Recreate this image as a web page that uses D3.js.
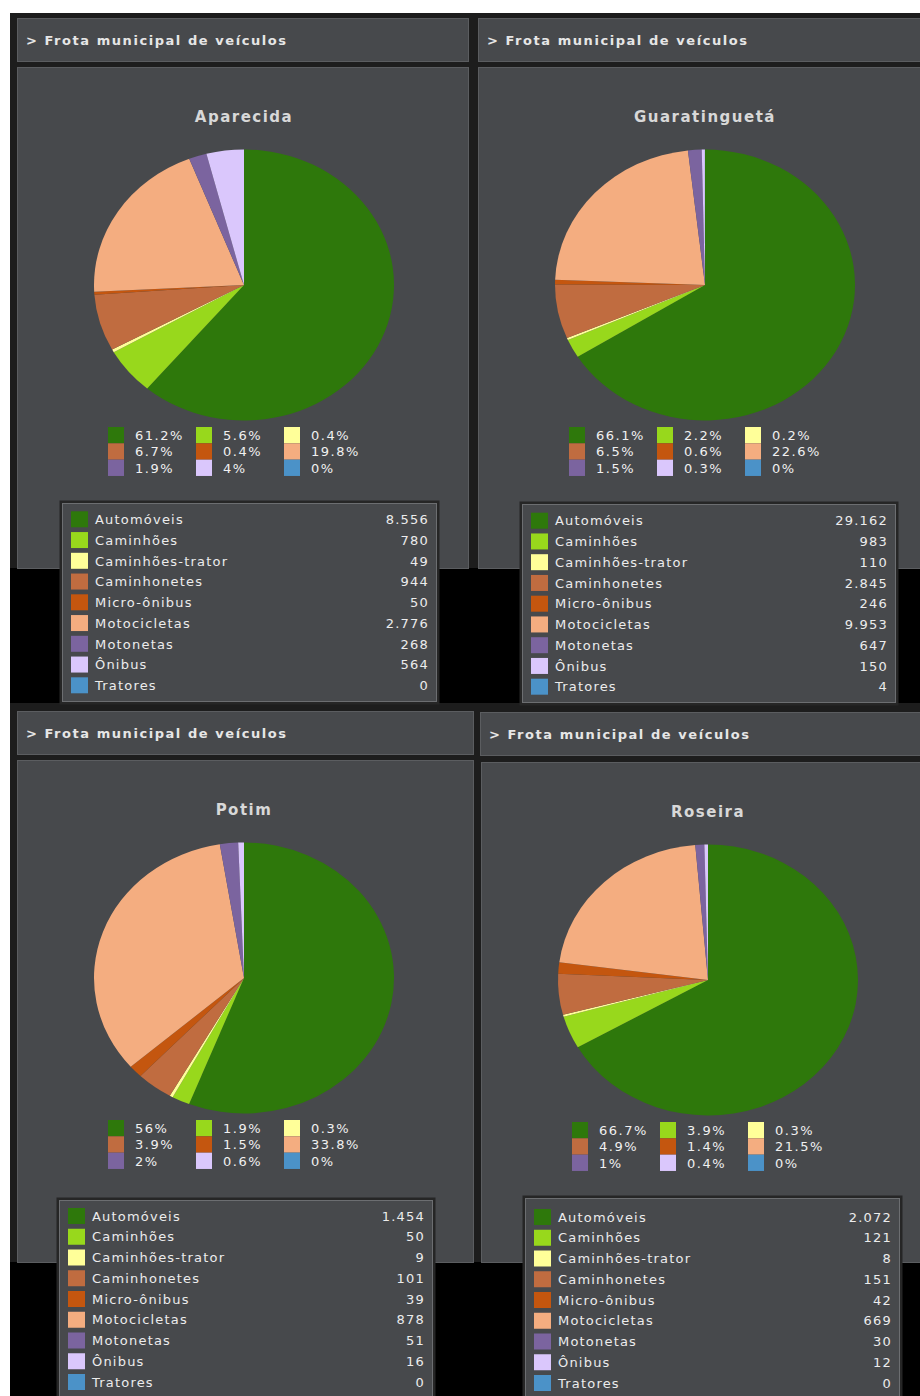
<!DOCTYPE html>
<html>
<head>
<meta charset="utf-8">
<script src="https://cdn.jsdelivr.net/npm/d3@7"></script>
<style>
  body{margin:0;background:#fff;}
  svg{display:block;}
  text{font-family:"DejaVu Sans", Verdana, sans-serif;}
</style>
</head>
<body>
<div class="graph"></div>
<script>
// ============== Data ==============
var categories = ['Automóveis', 'Caminhões', 'Caminhões-trator', 'Caminhonetes', 'Micro-ônibus',
                  'Motocicletas', 'Motonetas', 'Ônibus', 'Tratores'];
var colors = ['#2e780b', '#98d81c', '#ffff99', '#c06c40', '#c4560f',
              '#f4ad80', '#7b649f', '#dac7fc', '#4b92c8'];
var cities = ['Aparecida', 'Guaratinguetá', 'Potim', 'Roseira'];
var aparecida     = [8556, 780, 49, 944, 50, 2776, 268, 564, 0];
var guaratingueta = [29162, 983, 110, 2845, 246, 9953, 647, 150, 4];
var potim         = [1454, 50, 9, 101, 39, 878, 51, 16, 0];
var roseira       = [2072, 121, 8, 151, 42, 669, 30, 12, 0];
var headerTitle = '> Frota municipal de veículos';

// ============== Layout ==============
var config = {
  width: 920,
  height: 1396,
  boxFill: '#47494c',
  boxStroke: '#5b5d60',
  rx: 150,
  ry: 135.5
};

var panels = [
  {name: cities[0], values: aparecida,
   header: {x: 17, y: 18, w: 451, h: 43}, box: {x: 17, y: 67, w: 451, h: 501},
   table: {x: 62, y: 503, w: 375, r0: 16.3}},
  {name: cities[1], values: guaratingueta,
   header: {x: 478, y: 18, w: 450, h: 43}, box: {x: 478, y: 67, w: 450, h: 501},
   table: {x: 522, y: 504, w: 374, r0: 16.7}},
  {name: cities[2], values: potim,
   header: {x: 17, y: 711, w: 456, h: 43}, box: {x: 17, y: 760, w: 456, h: 502},
   table: {x: 59, y: 1200, w: 374, r0: 16}},
  {name: cities[3], values: roseira,
   header: {x: 480, y: 712, w: 450, h: 43}, box: {x: 481, y: 762, w: 450, h: 500},
   table: {x: 525, y: 1198, w: 375, r0: 19}}
];

var color = d3.scaleOrdinal().domain(categories).range(colors);
var fmtNumber = d3.formatLocale({decimal: ',', thousands: '.', grouping: [3], currency: ['', '']}).format(',d');
function fmtPct(v){ return (Math.round(v*1000)/10) +'%'; }

var svg = d3.select('.graph')
  .append('svg')
  .attr('width', config.width)
  .attr('height', config.height);

// Backgrounds
svg.append('rect').attr('x', 10).attr('y', 13).attr('width', config.width - 10).attr('height', config.height - 13)
  .attr('fill', '#1d1d1d');
svg.append('rect').attr('x', 10).attr('y', 568).attr('width', config.width - 10).attr('height', 135)
  .attr('fill', '#000');
svg.append('rect').attr('x', 10).attr('y', 1262).attr('width', config.width - 10).attr('height', 134)
  .attr('fill', '#000');

var pie = d3.pie().sort(null).value(function(d){ return d.value; });
var arc = d3.arc().innerRadius(0).outerRadius(config.rx);

// ============== Panels (boxes + pies) ==============
panels.forEach(function(p){
  var data = categories.map(function(c, i){ return {key: c, value: p.values[i]}; });
  var total = d3.sum(p.values);
  var g = svg.append('g');

  // Header
  g.append('rect')
    .attr('x', p.header.x + 0.5).attr('y', p.header.y + 0.5)
    .attr('width', p.header.w).attr('height', p.header.h)
    .attr('fill', config.boxFill).attr('stroke', config.boxStroke);
  g.append('text')
    .attr('x', p.header.x + 9).attr('y', p.header.y + 27)
    .attr('fill', '#e6e6e6')
    .style('font-size', '13px').style('font-weight', 'bold').style('letter-spacing', '1.55px')
    .text(headerTitle);

  // Chart box
  g.append('rect')
    .attr('x', p.box.x + 0.5).attr('y', p.box.y + 0.5)
    .attr('width', p.box.w).attr('height', p.box.h)
    .attr('fill', config.boxFill).attr('stroke', config.boxStroke);

  var cx = p.box.x + 227, cy = p.box.y + 218;

  // Title
  g.append('text')
    .attr('x', cx).attr('y', p.box.y + 55)
    .attr('text-anchor', 'middle')
    .attr('fill', '#d8d8d8')
    .style('font-size', '15px').style('font-weight', 'bold').style('letter-spacing', '1.5px')
    .text(p.name);

  // Pie
  g.append('g')
    .attr('transform', 'translate(' + cx + ',' + cy + ') scale(1,' + (config.ry/config.rx) + ')')
    .selectAll('path')
    .data(pie(data))
    .enter()
    .append('path')
    .attr('d', arc)
    .attr('fill', function(d){ return color(d.data.key); });

  // Percent legend
  var colX = d3.scaleBand().domain([0, 1, 2]).range([cx - 136, cx - 136 + 264]);
  var rowY = d3.scaleBand().domain([0, 1, 2]).range([cy + 142, cy + 142 + 49]);
  var leg = g.selectAll('.pct')
    .data(data)
    .enter()
    .append('g')
    .attr('class', 'pct')
    .attr('transform', function(d, i){ return 'translate(' + colX(i % 3) + ',' + rowY(Math.floor(i/3)) + ')'; });
  leg.append('rect')
    .attr('width', 16).attr('height', 16.3)
    .attr('fill', function(d){ return color(d.key); });
  leg.append('text')
    .attr('x', 27).attr('y', 13)
    .attr('fill', '#f0f0f0')
    .style('font-size', '13px').style('letter-spacing', '1.5px')
    .text(function(d){ return fmtPct(d.value/total); });
});

// ============== Tables ==============
panels.forEach(function(p){
  var t = p.table;
  var tableH = 199;
  var g = svg.append('g');

  g.append('rect')
    .attr('x', t.x - 1).attr('y', t.y - 1)
    .attr('width', t.w + 2).attr('height', tableH + 2)
    .attr('fill', 'none').attr('stroke', '#262626').attr('stroke-width', 3);
  g.append('rect')
    .attr('x', t.x + 0.5).attr('y', t.y + 0.5)
    .attr('width', t.w - 1).attr('height', tableH - 1)
    .attr('fill', config.boxFill).attr('stroke', '#6c6e71');

  var y = d3.scalePoint().domain(categories).range([t.y + t.r0, t.y + t.r0 + 166]);

  var row = g.selectAll('.row')
    .data(categories)
    .enter()
    .append('g')
    .attr('class', 'row')
    .attr('transform', function(d){ return 'translate(0,' + y(d) + ')'; });

  row.append('rect')
    .attr('x', t.x + 9).attr('y', -8)
    .attr('width', 17).attr('height', 16)
    .attr('fill', function(d){ return color(d); });
  row.append('text')
    .attr('x', t.x + 33).attr('y', 4.7)
    .attr('fill', '#ececec')
    .style('font-size', '13px').style('letter-spacing', '1.2px')
    .text(function(d){ return d; });
  row.append('text')
    .attr('x', t.x + t.w - 8).attr('y', 4.7)
    .attr('text-anchor', 'end')
    .attr('fill', '#ececec')
    .style('font-size', '13px').style('letter-spacing', '1.2px')
    .text(function(d, i){ return fmtNumber(p.values[i]); });
});
</script>
</body>
</html>
